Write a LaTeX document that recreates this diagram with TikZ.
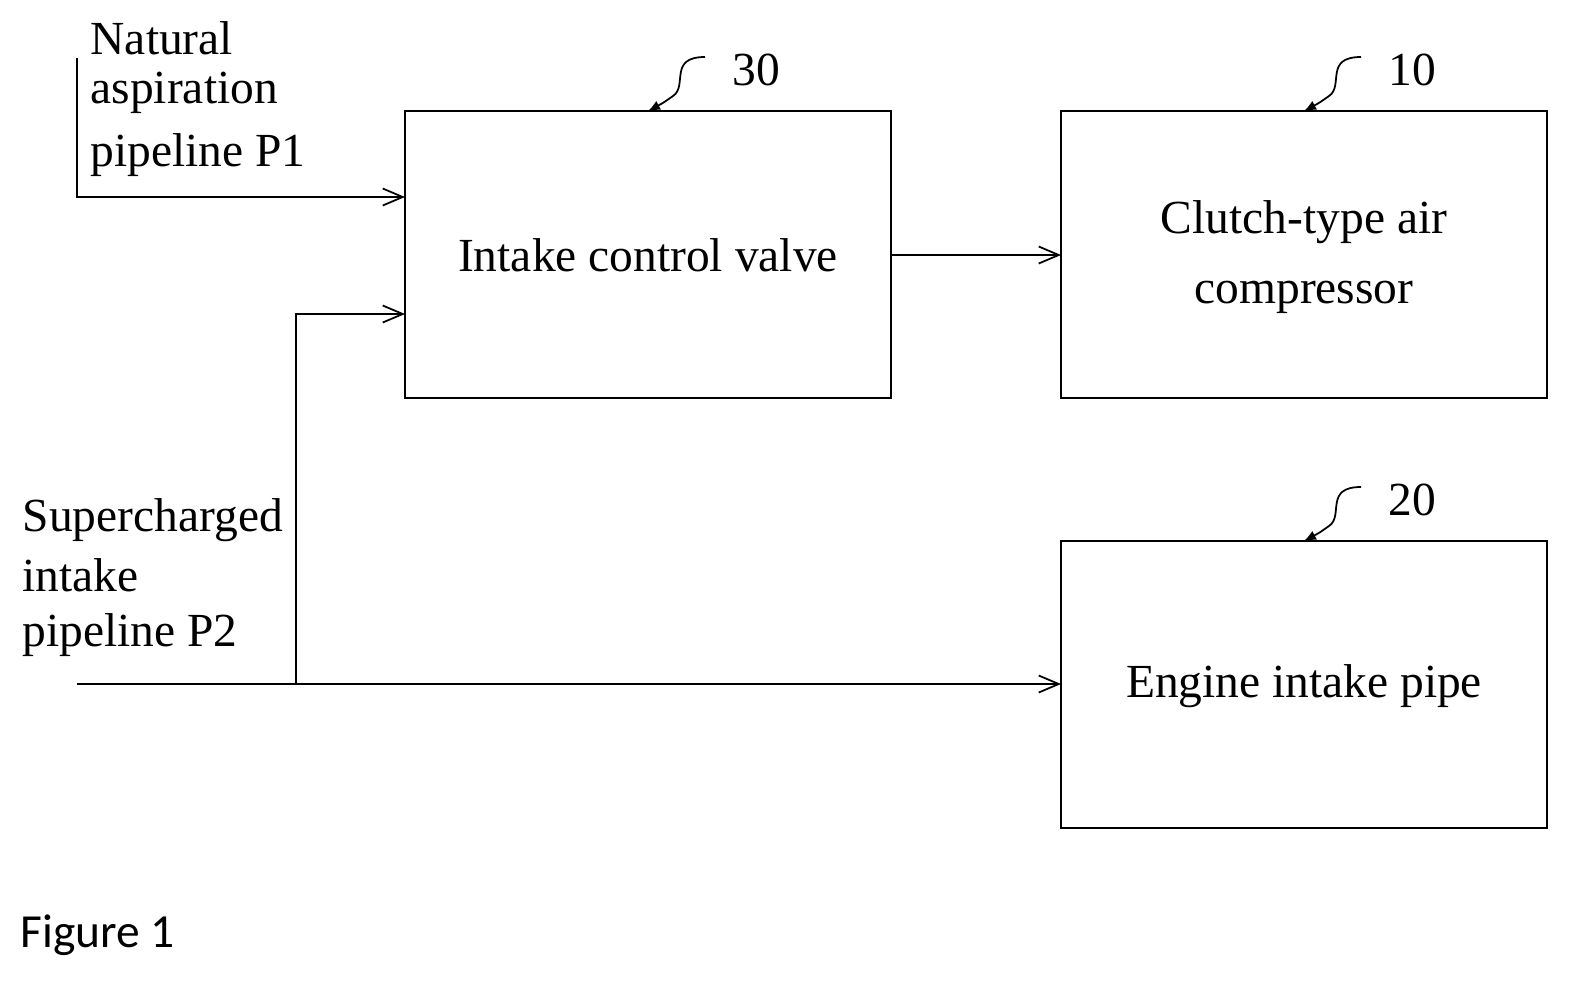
\documentclass[tikz,border=0pt]{standalone}
\usepackage{fontspec}
\setmainfont{Liberation Serif}
\newfontfamily\figfont{Carlito}
\usetikzlibrary{arrows.meta}
\begin{document}
\begin{tikzpicture}[x=0.01cm,y=-0.01cm,
  box/.style={draw,line width=0.5pt},
  flow/.style={line width=0.5pt,-{Straight Barb[length=0.2cm,width=0.17cm,line width=0.5pt]}},
  lbl/.style={font=\fontsize{13.5}{16}\selectfont,align=left,anchor=west,inner sep=0},
  txt/.style={font=\fontsize{13.5}{20}\selectfont,align=center},
  sq/.style={line width=0.5pt,-{Latex[length=0.12cm,width=0.1cm]}}]
\useasboundingbox (0,0) rectangle (1575,981);
\draw[box] (405,111) rectangle (891,398);
\node[txt] (b30) at (648,255) {Intake control valve};
\draw[box] (1061,111) rectangle (1547,398);
\node[txt] (b10) at (1304,257) {Clutch-type air\\compressor};
\draw[box] (1061,541) rectangle (1547,828);
\node[txt] (b20) at (1304,686) {Engine intake pipe};
\coordinate (v30) at (405,197); \coordinate (v30b) at (405,314);
\coordinate (r30) at (891,255); \coordinate (l10) at (1061,255);
\coordinate (l20) at (1061,684);
\coordinate (p1) at (77,58); \coordinate (p2) at (77,684);
\coordinate (j) at (296,684);
\draw[flow] (p1) |- (v30);
\draw[flow] (p2) -- (l20);
\draw[flow] (j) |- (v30b);
\draw[flow] (r30) -- (l10);
\node[lbl] (t1) at (90,38) {Natural};
\node[lbl] (t2) at (90,93) {aspiration};
\node[lbl] (t3) at (90,155) {pipeline P1};
\node[lbl] (t4) at (22,520) {Supercharged};
\node[lbl] (t5) at (22,575) {intake};
\node[lbl] (t6) at (22,635) {pipeline P2};
\foreach \x/\y/\n in {648/111/30,1304/111/10,1304/541/20}{
  \node[txt,anchor=west] (n\n) at (\x+72,\y-41) {\n};
  \draw[sq] (\x+57,\y-54) .. controls (\x+20,\y-54) and (\x+40,\y-25) .. (\x+25,\y-15) .. controls (\x+15,\y-8) .. (\x,\y);
}
\node[font=\figfont\fontsize{13.5}{16}\selectfont,anchor=west,inner sep=0] (fig) at (20,935) {Figure 1};
\end{tikzpicture}
\end{document}
